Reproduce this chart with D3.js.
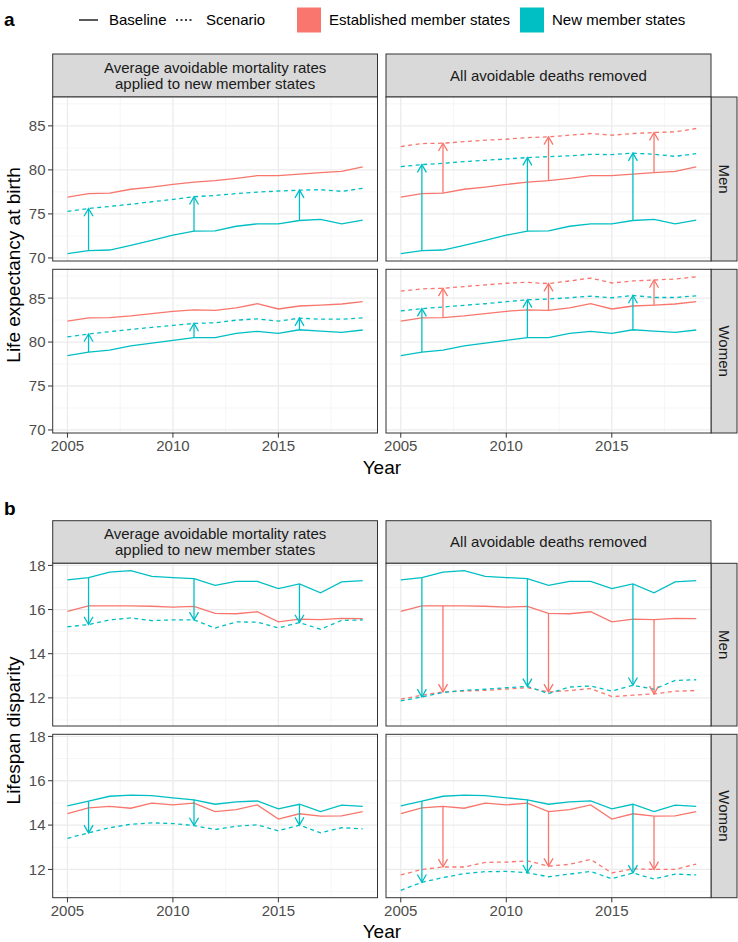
<!DOCTYPE html>
<html><head><meta charset="utf-8">
<script src="https://cdn.jsdelivr.net/npm/d3@7"></script>
<style>body{margin:0;background:#fff;} text{font-family:"Liberation Sans",Arial,Helvetica,sans-serif;}</style>
</head><body><svg id="c" width="738" height="942"></svg>
<script>
// ---------------- DATA ----------------
const years = [2005,2006,2007,2008,2009,2010,2011,2012,2013,2014,2015,2016,2017,2018,2019];
const xTicks = [2005,2010,2015];
const colLabels = [["Average avoidable mortality rates","applied to new member states"],["All avoidable deaths removed"]];
const rowLabels = ["Men","Women"];
const groupLabels = ["Established member states","New member states"];
const lineLabels = ["Baseline","Scenario"];
const groupColors = ["#F8766D","#00BFC4"];
const leTicks = [70,75,80,85];
const ldTicks = [12,14,16,18];
const arrowYearsEst = [2007,2012,2017];
const arrowYearsNew = [2006,2011,2016];

// Life expectancy at birth - Men
const leMenEstBase    = [76.9,77.3,77.37,77.8,78.05,78.35,78.6,78.77,79.03,79.34,79.34,79.53,79.7,79.83,80.33];
const leMenNewBase    = [70.5,70.83,70.9,71.44,72.0,72.58,73.04,73.07,73.6,73.87,73.87,74.25,74.37,73.87,74.29];
const leMenNewScenAvg = [75.28,75.62,75.85,76.1,76.38,76.64,76.95,77.1,77.3,77.48,77.6,77.7,77.75,77.56,77.9];
const leMenEstScenAll = [82.65,82.99,83.03,83.2,83.37,83.48,83.67,83.75,83.94,84.13,83.94,84.13,84.24,84.32,84.7];
const leMenNewScenAll = [80.37,80.6,80.75,80.94,81.09,81.24,81.4,81.5,81.6,81.77,81.73,81.9,81.77,81.54,81.85];
// Life expectancy at birth - Women
const leWomEstBase    = [82.38,82.75,82.79,82.98,83.24,83.5,83.65,83.61,83.88,84.36,83.76,84.1,84.21,84.33,84.59];
const leWomNewBase    = [78.45,78.86,79.08,79.57,79.87,80.2,80.5,80.5,80.99,81.22,80.99,81.4,81.25,81.1,81.37];
const leWomNewScenAvg = [80.58,80.92,81.18,81.44,81.67,81.89,82.12,82.19,82.49,82.64,82.38,82.72,82.6,82.6,82.75];
const leWomEstScenAll = [85.79,86.05,86.12,86.31,86.5,86.69,86.8,86.65,86.95,87.28,86.72,86.95,87.06,87.17,87.43];
const leWomNewScenAll = [83.54,83.8,83.99,84.18,84.36,84.59,84.81,84.89,85.04,85.22,85.04,85.3,85.07,85.07,85.26];

// Lifespan disparity - Men
const ldMenEstBase    = [15.92,16.17,16.17,16.17,16.15,16.11,16.14,15.83,15.81,15.9,15.44,15.57,15.54,15.6,15.59];
const ldMenNewBase    = [17.34,17.45,17.7,17.76,17.5,17.45,17.4,17.1,17.28,17.28,16.95,17.16,16.76,17.25,17.31];
const ldMenNewScenAvg = [15.22,15.32,15.53,15.62,15.5,15.53,15.53,15.16,15.44,15.43,15.17,15.41,15.11,15.51,15.53];
const ldMenEstScenAll = [11.94,12.12,12.27,12.31,12.34,12.4,12.46,12.27,12.33,12.42,12.06,12.12,12.18,12.3,12.33];
const ldMenNewScenAll = [11.86,12.04,12.24,12.34,12.39,12.46,12.52,12.19,12.49,12.54,12.31,12.57,12.39,12.79,12.82];
// Lifespan disparity - Women
const ldWomEstBase    = [14.52,14.78,14.84,14.76,14.99,14.91,14.99,14.61,14.7,14.91,14.27,14.51,14.4,14.42,14.61];
const ldWomNewBase    = [14.87,15.08,15.3,15.35,15.33,15.23,15.14,14.94,15.05,15.09,14.73,14.94,14.61,14.9,14.84];
const ldWomNewScenAvg = [13.4,13.65,13.88,14.04,14.1,14.07,13.98,13.8,13.95,14.01,13.74,14.0,13.65,13.88,13.83];
const ldWomEstScenAll = [11.75,12.0,12.11,12.11,12.32,12.33,12.39,12.15,12.23,12.45,11.84,12.03,12.0,12.0,12.24];
const ldWomNewScenAll = [11.06,11.42,11.63,11.81,11.9,11.91,11.85,11.67,11.79,11.91,11.58,11.84,11.57,11.79,11.75];

// ---------------- DRAWING ----------------
const svg = d3.select("#c");
const FS = 15, TITLE_FS = 19;
const colX = [[52.7,377.5],[386,711]];
const stripRight = [711,737];
const tickLen = 4.7;
const gridMajor = "#EBEBEB", gridMinor = "#F2F2F2", border = "#333333";

const x = d3.scaleLinear().domain([years[0]-0.7, years[years.length-1]+0.7]);

function makeSex(estBase,newBase,newAvg,estAll,newAll){ return {estBase,newBase,newAvg,estAll,newAll}; }

function drawFigure(o){
  const g = svg.append("g");
  // label
  g.append("text").attr("x",4).attr("y",o.labelBaseline).attr("font-size",TITLE_FS).attr("font-weight","bold").text(o.label);
  // y domain
  const all = [];
  o.sexes.forEach(s=>{ all.push(...s.estBase,...s.newBase,...s.newAvg,...s.estAll,...s.newAll); });
  const [mn,mx] = d3.extent(all); const pad = (mx-mn)*0.05;
  const yDom = [mn-pad, mx+pad];
  const minor = [];
  for(let i=0;i<o.yTicks.length-1;i++) minor.push((o.yTicks[i]+o.yTicks[i+1])/2);
  minor.push(o.yTicks[o.yTicks.length-1]+(o.yTicks[1]-o.yTicks[0])/2);
  minor.unshift(o.yTicks[0]-(o.yTicks[1]-o.yTicks[0])/2);
  const xMinor = [2002.5,2007.5,2012.5,2017.5];

  // top strips
  colLabels.forEach((lab,ci)=>{
    const [x0,x1]=colX[ci];
    g.append("rect").attr("x",x0).attr("y",o.stripTop).attr("width",x1-x0).attr("height",o.rows[0][0]-o.stripTop)
      .attr("fill","#D9D9D9").attr("stroke",border).attr("stroke-width",1);
    const cy=(o.stripTop+o.rows[0][0])/2, lh=16;
    lab.forEach((t,li)=>{
      g.append("text").attr("x",(x0+x1)/2).attr("y",cy+(li-(lab.length-1)/2)*lh+FS*0.35)
        .attr("text-anchor","middle").attr("font-size",FS).attr("fill","#1A1A1A").text(t);
    });
  });

  o.rows.forEach((rr,ri)=>{
    const [y0,y1]=rr;
    const y = d3.scaleLinear().domain(yDom).range([y1,y0]);
    const s = o.sexes[ri];
    // right strip
    g.append("rect").attr("x",stripRight[0]).attr("y",y0).attr("width",stripRight[1]-stripRight[0]).attr("height",y1-y0)
      .attr("fill","#D9D9D9").attr("stroke",border).attr("stroke-width",1);
    const scx=(stripRight[0]+stripRight[1])/2, scy=(y0+y1)/2;
    g.append("text").attr("transform",`translate(${scx-FS*0.35},${scy}) rotate(90)`).attr("text-anchor","middle")
      .attr("font-size",FS).attr("fill","#1A1A1A").text(rowLabels[ri]);

    colX.forEach((cx,ci)=>{
      x.range(cx);
      const p = g.append("g");
      p.append("rect").attr("x",cx[0]).attr("y",y0).attr("width",cx[1]-cx[0]).attr("height",y1-y0).attr("fill","#fff");
      // grid minor
      minor.filter(v=>v>yDom[0]&&v<yDom[1]).forEach(v=>{
        p.append("line").attr("x1",cx[0]).attr("x2",cx[1]).attr("y1",y(v)).attr("y2",y(v)).attr("stroke",gridMinor).attr("stroke-width",0.7);
      });
      xMinor.filter(v=>v>x.domain()[0]&&v<x.domain()[1]).forEach(v=>{
        p.append("line").attr("y1",y0).attr("y2",y1).attr("x1",x(v)).attr("x2",x(v)).attr("stroke",gridMinor).attr("stroke-width",0.7);
      });
      o.yTicks.forEach(v=>{
        p.append("line").attr("x1",cx[0]).attr("x2",cx[1]).attr("y1",y(v)).attr("y2",y(v)).attr("stroke",gridMajor).attr("stroke-width",1.3);
      });
      xTicks.forEach(v=>{
        p.append("line").attr("y1",y0).attr("y2",y1).attr("x1",x(v)).attr("x2",x(v)).attr("stroke",gridMajor).attr("stroke-width",1.3);
      });

      const line = d3.line().x((d,i)=>x(years[i])).y(d=>y(d));
      const lines = [];
      lines.push({v:s.estBase,c:0,dash:false});
      lines.push({v:s.newBase,c:1,dash:false});
      if(ci===0){ lines.push({v:s.newAvg,c:1,dash:true}); }
      else { lines.push({v:s.estAll,c:0,dash:true}); lines.push({v:s.newAll,c:1,dash:true}); }
      lines.forEach(l=>{
        p.append("path").attr("d",line(l.v)).attr("fill","none").attr("stroke",groupColors[l.c]).attr("stroke-width",1.3)
          .attr("stroke-dasharray",l.dash?"4,3.5":null);
      });
      // arrows
      const arrows=[];
      if(ci===0){ arrowYearsNew.forEach(yr=>{const i=years.indexOf(yr); arrows.push({yr,from:s.newBase[i],to:s.newAvg[i],c:1});}); }
      else {
        arrowYearsNew.forEach(yr=>{const i=years.indexOf(yr); arrows.push({yr,from:s.newBase[i],to:s.newAll[i],c:1});});
        arrowYearsEst.forEach(yr=>{const i=years.indexOf(yr); arrows.push({yr,from:s.estBase[i],to:s.estAll[i],c:0});});
      }
      arrows.forEach(a=>{
        const ax=x(a.yr), ya=y(a.from), yb=y(a.to);
        const dir = yb<ya?-1:1, L=9, ang=Math.PI/6;
        p.append("line").attr("x1",ax).attr("x2",ax).attr("y1",ya).attr("y2",yb).attr("stroke",groupColors[a.c]).attr("stroke-width",1.3);
        const hx=L*Math.sin(ang), hy=L*Math.cos(ang)*dir;
        p.append("path").attr("d",`M${ax-hx},${yb-hy}L${ax},${yb}L${ax+hx},${yb-hy}`).attr("fill","none")
          .attr("stroke",groupColors[a.c]).attr("stroke-width",1.3);
      });
      // border
      p.append("rect").attr("x",cx[0]).attr("y",y0).attr("width",cx[1]-cx[0]).attr("height",y1-y0).attr("fill","none").attr("stroke",border).attr("stroke-width",1);

      // y axis
      if(ci===0){
        o.yTicks.forEach(v=>{
          g.append("line").attr("x1",cx[0]-tickLen).attr("x2",cx[0]).attr("y1",y(v)).attr("y2",y(v)).attr("stroke",border).attr("stroke-width",1);
          g.append("text").attr("x",cx[0]-tickLen-2.5).attr("y",y(v)+FS*0.36).attr("text-anchor","end").attr("font-size",FS).attr("fill","#4D4D4D").text(v);
        });
      }
      // x axis
      if(ri===o.rows.length-1){
        xTicks.forEach(v=>{
          g.append("line").attr("x1",x(v)).attr("x2",x(v)).attr("y1",y1).attr("y2",y1+tickLen).attr("stroke",border).attr("stroke-width",1);
          g.append("text").attr("x",x(v)).attr("y",y1+tickLen+2.5+FS*0.72).attr("text-anchor","middle").attr("font-size",FS).attr("fill","#4D4D4D").text(v);
        });
      }
    });
  });
  // titles
  const ymid=(o.rows[0][0]+o.rows[o.rows.length-1][1])/2;
  g.append("text").attr("transform",`translate(19.5,${ymid}) rotate(-90)`).attr("text-anchor","middle").attr("font-size",TITLE_FS).attr("fill","#000").text(o.yTitle);
  g.append("text").attr("x",(colX[0][0]+colX[1][1])/2).attr("y",o.rows[o.rows.length-1][1]+40.5).attr("text-anchor","middle").attr("font-size",TITLE_FS).attr("fill","#000").text("Year");
}

// legend
(function(){
  const ly=20;
  const L=svg.append("g");
  L.append("line").attr("x1",79).attr("x2",98).attr("y1",ly).attr("y2",ly).attr("stroke","#000").attr("stroke-width",1.3);
  L.append("text").attr("x",109).attr("y",ly+FS*0.36).attr("font-size",FS).text(lineLabels[0]);
  L.append("line").attr("x1",176).attr("x2",194).attr("y1",ly).attr("y2",ly).attr("stroke","#000").attr("stroke-width",1.3).attr("stroke-dasharray","2,2.5");
  L.append("text").attr("x",206).attr("y",ly+FS*0.36).attr("font-size",FS).text(lineLabels[1]);
  const boxes=[[297,329],[520,552]];
  boxes.forEach((b,i)=>{
    L.append("rect").attr("x",b[0]).attr("y",ly-12.5).attr("width",24).attr("height",25).attr("fill",groupColors[i]);
    L.append("text").attr("x",b[1]).attr("y",ly+FS*0.36).attr("font-size",FS).text(groupLabels[i]);
  });
})();

drawFigure({label:"a",labelBaseline:26,stripTop:54,rows:[[97,261],[269.3,433]],yTicks:leTicks,yTitle:"Life expectancy at birth",
  sexes:[makeSex(leMenEstBase,leMenNewBase,leMenNewScenAvg,leMenEstScenAll,leMenNewScenAll),
         makeSex(leWomEstBase,leWomNewBase,leWomNewScenAvg,leWomEstScenAll,leWomNewScenAll)]});
drawFigure({label:"b",labelBaseline:515,stripTop:520.7,rows:[[563.3,726],[734.3,897.7]],yTicks:ldTicks,yTitle:"Lifespan disparity",
  sexes:[makeSex(ldMenEstBase,ldMenNewBase,ldMenNewScenAvg,ldMenEstScenAll,ldMenNewScenAll),
         makeSex(ldWomEstBase,ldWomNewBase,ldWomNewScenAvg,ldWomEstScenAll,ldWomNewScenAll)]});
</script></body></html>
